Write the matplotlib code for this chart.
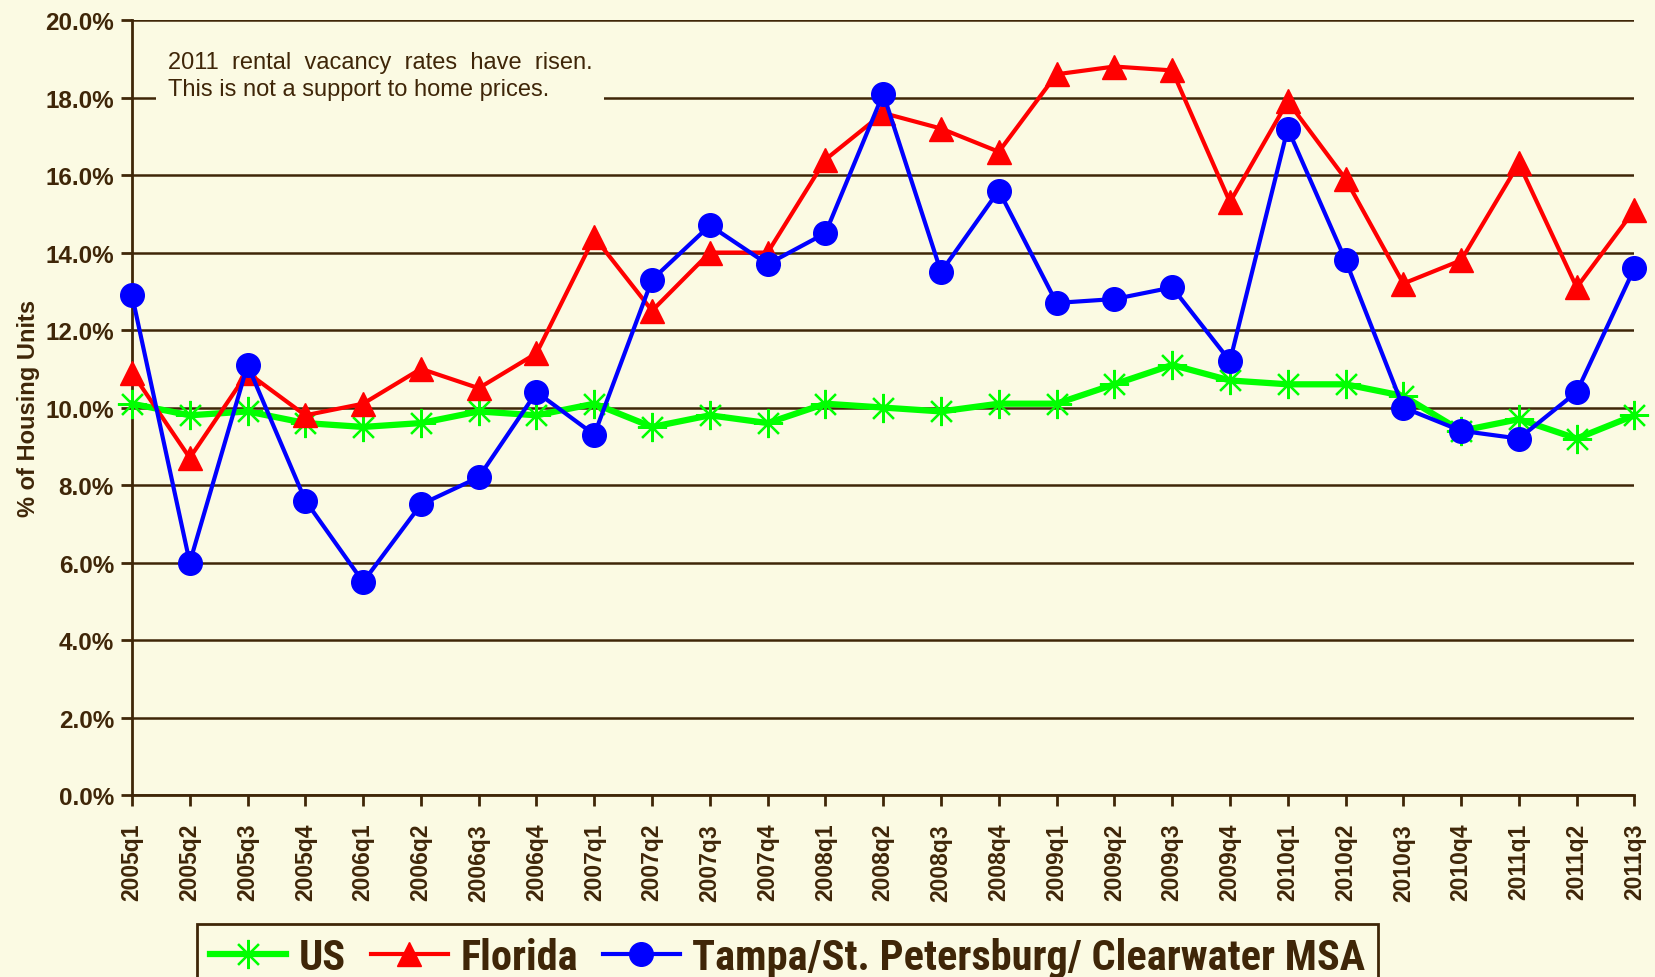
import matplotlib.pyplot as plt
from matplotlib import font_manager

quarters = ['2005q1', '2005q2', '2005q3', '2005q4', '2006q1', '2006q2', '2006q3', '2006q4',
            '2007q1', '2007q2', '2007q3', '2007q4', '2008q1', '2008q2', '2008q3', '2008q4',
            '2009q1', '2009q2', '2009q3', '2009q4', '2010q1', '2010q2', '2010q3', '2010q4',
            '2011q1', '2011q2', '2011q3']

us = [10.1, 9.8, 9.9, 9.6, 9.5, 9.6, 9.9, 9.8, 10.1, 9.5, 9.8, 9.6, 10.1, 10.0, 9.9, 10.1,
      10.1, 10.6, 11.1, 10.7, 10.6, 10.6, 10.3, 9.4, 9.7, 9.2, 9.8]
florida = [10.9, 8.7, 10.9, 9.8, 10.1, 11.0, 10.5, 11.4, 14.4, 12.5, 14.0, 14.0, 16.4, 17.6, 17.2, 16.6,
           18.6, 18.8, 18.7, 15.3, 17.9, 15.9, 13.2, 13.8, 16.3, 13.1, 15.1]
tampa = [12.9, 6.0, 11.1, 7.6, 5.5, 7.5, 8.2, 10.4, 9.3, 13.3, 14.7, 13.7, 14.5, 18.1, 13.5, 15.6,
         12.7, 12.8, 13.1, 11.2, 17.2, 13.8, 10.0, 9.4, 9.2, 10.4, 13.6]

bg = '#FBFAE3'
ink = '#3F2608'
plain = ['Liberation Sans', 'DejaVu Sans']

# condensed face for the legend if one is installed
installed = {f.name for f in font_manager.fontManager.ttflist}
narrow = [f for f in ['Liberation Sans Narrow', 'Arial Narrow', 'Roboto Condensed']
          if f in installed]
leg_size = 30.5 if narrow else 26.5
narrow = narrow + plain

plt.rcParams['font.family'] = plain

fig = plt.figure(figsize=(16.56, 9.78), dpi=100, facecolor=bg)
ax = fig.add_axes([0.0797, 0.186, 0.9073, 0.7925], facecolor=bg)

x = list(range(len(quarters)))
ax.plot(x, us, color='#00FF00', lw=4.5, marker=(8, 2, 0), ms=21, mew=1.6,
        label='US', clip_on=False, zorder=3)
ax.plot(x, florida, color='#FF0000', lw=3, marker='^', ms=17,
        label='Florida', clip_on=False, zorder=4)
ax.plot(x, tampa, color='#0000FF', lw=3, marker='o', ms=17,
        label='Tampa/St. Petersburg/ Clearwater MSA', clip_on=False, zorder=5)

ax.set_xlim(0, len(quarters) - 1)
ax.set_ylim(0, 20)
ax.set_yticks(range(0, 21, 2))
ax.set_yticklabels(['%.1f%%' % v for v in range(0, 21, 2)])
ax.set_xticks(x)
ax.set_xticklabels(quarters, rotation=90)
ax.grid(axis='y', color=ink, lw=1.8, zorder=1)
ax.set_axisbelow(True)

for s in ['top', 'right']:
    ax.spines[s].set_visible(False)
for s in ['left', 'bottom']:
    ax.spines[s].set_color(ink)
    ax.spines[s].set_linewidth(2)
ax.tick_params(colors=ink, width=2, length=8, labelsize=16.5)
ax.tick_params(axis='x', pad=12)
ax.tick_params(axis='y', labelsize=17.5, pad=5)
for t in ax.get_xticklabels() + ax.get_yticklabels():
    t.set_fontweight('bold')

ax.set_ylabel('% of Housing Units', fontsize=17, fontweight='bold', color=ink, labelpad=4)

ax.text(0.024, 0.96, '2011  rental  vacancy  rates  have  risen.\nThis is not a support to home prices.',
        transform=ax.transAxes, fontsize=17, color=ink, va='top', ha='left',
        linespacing=1.3, zorder=6,
        bbox=dict(boxstyle='square,pad=0.5', fc=bg, ec='none'))

leg = fig.legend(loc='upper left', bbox_to_anchor=(0.119, 0.054), ncol=3,
                 frameon=True, fancybox=False, edgecolor=ink, facecolor=bg, framealpha=1,
                 prop={'family': narrow, 'weight': 'bold', 'size': leg_size},
                 handlelength=1.8, handletextpad=0.3, columnspacing=0.6,
                 borderpad=0.3, borderaxespad=0)
leg.get_frame().set_linewidth(2)
for t in leg.get_texts():
    t.set_color(ink)

fig.savefig('out.png', dpi=100, facecolor=bg)
